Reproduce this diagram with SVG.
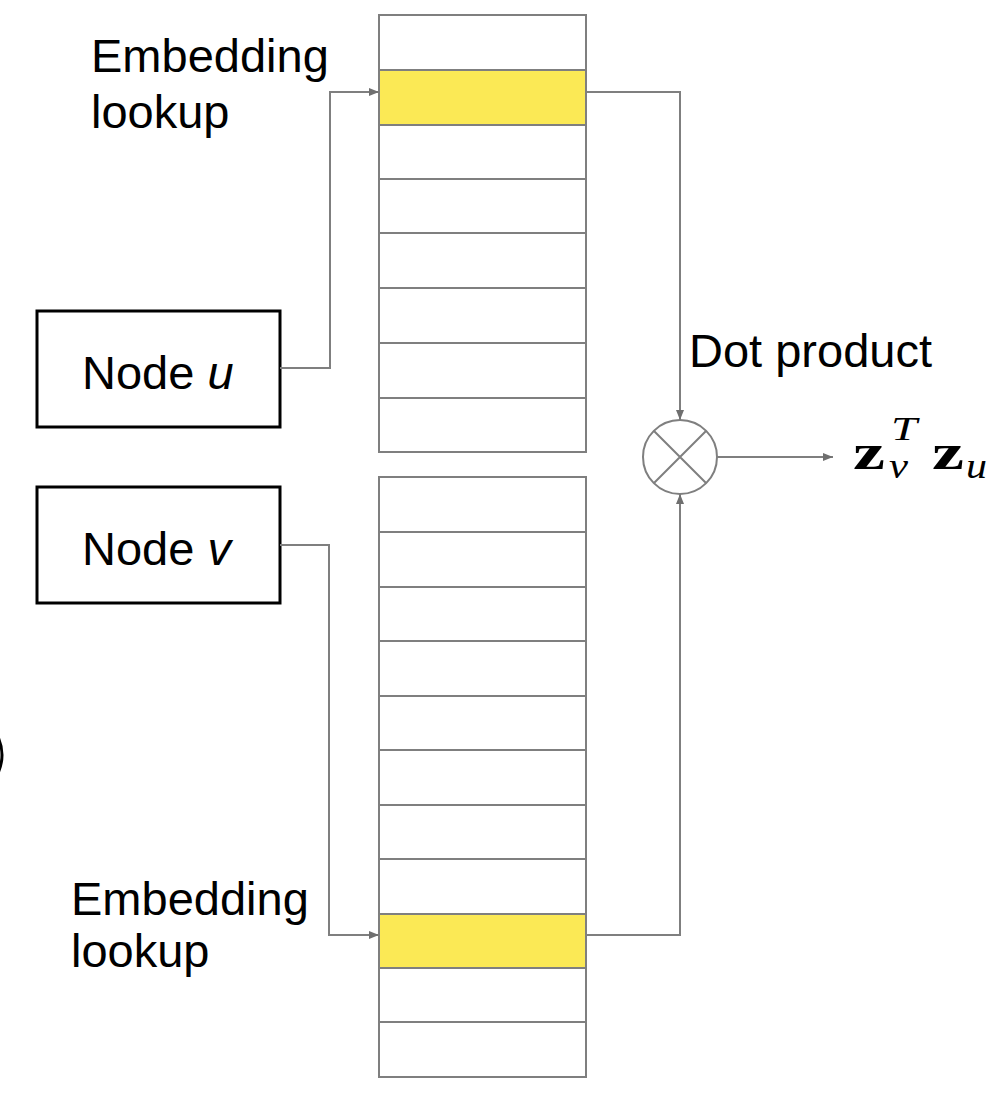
<svg xmlns="http://www.w3.org/2000/svg" width="1002" height="1108" viewBox="0 0 1002 1108">
<style>
.lbl{font-family:"Liberation Sans",Arial,sans-serif;font-size:47px;fill:#000}
.cell{fill:#fff;stroke:#7f7f7f;stroke-width:2}
.hl{fill:#fbe955;stroke:#7f7f7f;stroke-width:2}
.node{fill:#fff;stroke:#000;stroke-width:3}
.conn{fill:none;stroke:#7f7f7f;stroke-width:2}
.math{font-family:"Liberation Serif","Times New Roman",serif;fill:#000}
</style>
<defs>
<marker id="arr" viewBox="0 0 10 10" refX="10" refY="5" markerWidth="5" markerHeight="5" orient="auto" markerUnits="strokeWidth">
<path d="M0,1 L10,5 L0,9 z" fill="#6f6f6f"/>
</marker>
</defs>
<rect width="1002" height="1108" fill="#fff"/>
<g id="table-top">
<rect class="cell" x="379" y="15" width="207" height="55"/>
<rect class="hl" x="379" y="70" width="207" height="55"/>
<rect class="cell" x="379" y="125" width="207" height="54"/>
<rect class="cell" x="379" y="179" width="207" height="54"/>
<rect class="cell" x="379" y="233" width="207" height="55"/>
<rect class="cell" x="379" y="288" width="207" height="55"/>
<rect class="cell" x="379" y="343" width="207" height="55"/>
<rect class="cell" x="379" y="398" width="207" height="54"/>
</g>
<g id="table-bottom">
<rect class="cell" x="379" y="477" width="207" height="55"/>
<rect class="cell" x="379" y="532" width="207" height="55"/>
<rect class="cell" x="379" y="587" width="207" height="54"/>
<rect class="cell" x="379" y="641" width="207" height="55"/>
<rect class="cell" x="379" y="696" width="207" height="54"/>
<rect class="cell" x="379" y="750" width="207" height="55"/>
<rect class="cell" x="379" y="805" width="207" height="54"/>
<rect class="cell" x="379" y="859" width="207" height="55"/>
<rect class="hl" x="379" y="914" width="207" height="54"/>
<rect class="cell" x="379" y="968" width="207" height="54"/>
<rect class="cell" x="379" y="1022" width="207" height="55"/>
</g>
<g id="node-u">
<rect class="node" x="37" y="311" width="243" height="116"/>
<text class="lbl" x="82" y="389">Node <tspan font-style="italic">u</tspan></text>
</g>
<g id="node-v">
<rect class="node" x="37" y="487" width="243" height="116"/>
<text class="lbl" x="82" y="565">Node <tspan font-style="italic">v</tspan></text>
</g>
<g id="dot">
<circle cx="680" cy="457" r="37" fill="#fff" stroke="#7f7f7f" stroke-width="2"/>
<path d="M654,431 L706,483 M706,431 L654,483" stroke="#7f7f7f" stroke-width="2"/>
</g>
<g id="labels">
<text class="lbl" x="91" y="72">Embedding</text>
<text class="lbl" x="91" y="128">lookup</text>
<text class="lbl" x="71" y="915">Embedding</text>
<text class="lbl" x="71" y="967">lookup</text>
<text class="lbl" x="689" y="367">Dot product</text>
</g>
<g id="result">
<text class="math" x="853" y="469" font-size="50" font-weight="bold" textLength="32" lengthAdjust="spacingAndGlyphs">z</text>
<text class="math" x="891" y="440" font-size="33" font-style="italic" textLength="26" lengthAdjust="spacingAndGlyphs">T</text>
<text class="math" x="889" y="478" font-size="36" font-style="italic" textLength="19" lengthAdjust="spacingAndGlyphs">v</text>
<text class="math" x="932" y="469" font-size="50" font-weight="bold" textLength="32" lengthAdjust="spacingAndGlyphs">z</text>
<text class="math" x="966" y="478" font-size="36" font-style="italic" textLength="21" lengthAdjust="spacingAndGlyphs">u</text>
</g>
<g id="connectors">
<path class="conn" d="M280,368 H330 V92 H379" marker-end="url(#arr)"/>
<path class="conn" d="M280,545 H329 V935 H379" marker-end="url(#arr)"/>
<path class="conn" d="M586,92 H680 V420" marker-end="url(#arr)"/>
<path class="conn" d="M586,935 H680 V494" marker-end="url(#arr)"/>
<path class="conn" d="M717,457 H833" marker-end="url(#arr)"/>
</g>
<path d="M-2,737 Q6,755 -2,773" fill="none" stroke="#000" stroke-width="3"/>
</svg>
